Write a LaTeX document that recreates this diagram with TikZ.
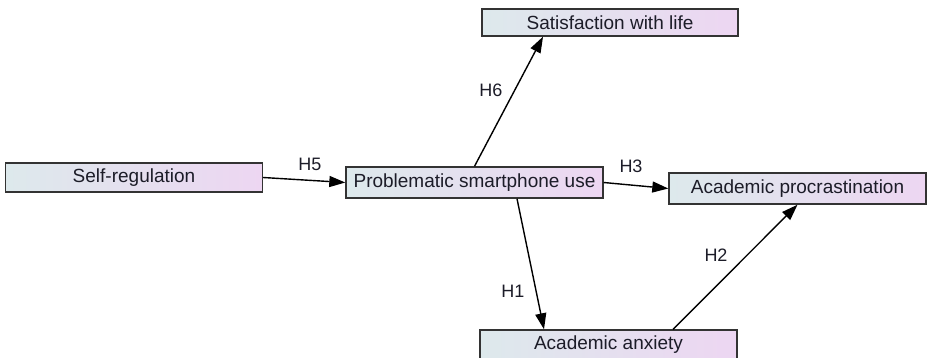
\documentclass[tikz,border=0pt]{standalone}
\usepackage{fontspec}
\setmainfont{Liberation Sans}
\usetikzlibrary{arrows.meta,calc}
\definecolor{boxleft}{HTML}{DDE9EC}
\definecolor{boxright}{HTML}{EDD6F2}
\definecolor{boxline}{HTML}{333333}
\definecolor{txt}{HTML}{1C1C28}
\tikzset{
  var/.style={draw=boxline, line width=1.4pt, left color=boxleft, right color=boxright,
    shading angle=90, minimum width=257pt, minimum height=30pt, inner sep=0pt,
    text=txt, font=\fontsize{19}{22}\selectfont},
  path/.style={draw=black, line width=1.4pt, -{Triangle[length=16pt,width=11pt]}},
  hlab/.style={text=txt, font=\fontsize{18}{21}\selectfont, inner sep=0pt}
}
\begin{document}
\begin{tikzpicture}[x=1pt,y=-1pt]
\useasboundingbox (0,0) rectangle (927,357);
\clip (0,0) rectangle (927,357);
\node[var, minimum height=29pt] (sr) at (134,177.5) {Self-regulation};
\node[var, minimum height=31pt] (psu) at (474.5,182.5) {Problematic smartphone use};
\node[var, minimum height=27pt, minimum width=256pt] (swl) at (610,22.5) {Satisfaction with life};
\node[var, minimum height=31pt] (ap) at (797.5,188.5) {Academic procrastination};
\node[var] (aa) at (608.5,345) {Academic anxiety};
\coordinate (psuS) at ($(psu.south)+(42.5,0)$);
\coordinate (aaL) at ($(aa.north)+(-64.5,0)$);
\coordinate (aaR) at ($(aa.north)+(64.5,0)$);
\coordinate (swlB) at ($(swl.south)+(-67,0)$);
\draw[path] (sr.east) -- (psu.west);
\draw[path] (psu.north) -- (swlB);
\draw[path] (psu.east) -- (ap.west);
\draw[path] (psuS) -- (aaL);
\draw[path] (aaR) -- (ap.south);
\node[hlab] (h5) at (310,164) {H5};
\node[hlab] (h6) at (491,90) {H6};
\node[hlab] (h3) at (631,166) {H3};
\node[hlab] (h1) at (513,291) {H1};
\node[hlab] (h2) at (716,255) {H2};
\end{tikzpicture}
\end{document}
